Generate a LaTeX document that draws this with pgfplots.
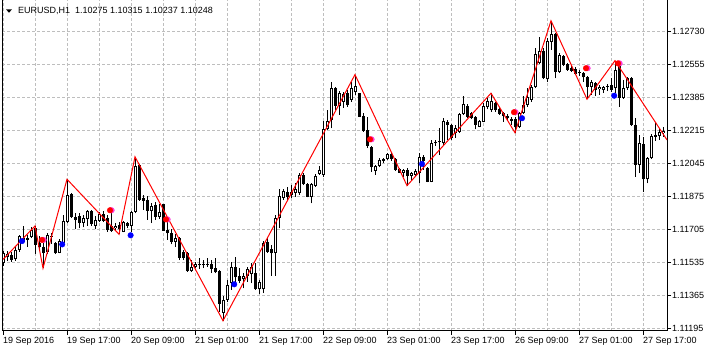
\documentclass[border=0pt]{standalone}
\usepackage{pgfplots}
\pgfplotsset{compat=1.18}
\usepackage{pgfplotstable}
\usepackage{fontspec}
\setmainfont{Liberation Sans}
\definecolor{gridgray}{RGB}{190,190,190}
\definecolor{mtred}{RGB}{255,0,0}
\definecolor{mtblue}{RGB}{0,0,255}
\definecolor{mtmag}{RGB}{255,60,220}

\pgfplotstableread{
i O H L C
0 1.11534 1.11594 1.11516 1.11582
1 1.11561 1.11594 1.11542 1.11577
2 1.11572 1.11590 1.11539 1.11547
3 1.11551 1.11616 1.11544 1.11599
4 1.11599 1.11676 1.11590 1.11671
5 1.11642 1.11723 1.11633 1.11659
6 1.11659 1.11676 1.11616 1.11651
7 1.11664 1.11716 1.11659 1.11702
8 1.11711 1.11723 1.11578 1.11625
9 1.11635 1.11671 1.11599 1.11614
10 1.11616 1.11633 1.11505 1.11582
11 1.11589 1.11685 1.11578 1.11676
12 1.11671 1.11687 1.11630 1.11666
13 1.11633 1.11642 1.11578 1.11582
14 1.11585 1.11654 1.11582 1.11647
15 1.11633 1.11780 1.11625 1.11749
16 1.11745 1.11964 1.11740 1.11883
17 1.11886 1.11892 1.11763 1.11771
18 1.11771 1.11788 1.11706 1.11754
19 1.11774 1.11788 1.11711 1.11737
20 1.11737 1.11780 1.11716 1.11763
21 1.11757 1.11805 1.11723 1.11800
22 1.11800 1.11805 1.11723 1.11732
23 1.11723 1.11774 1.11706 1.11754
24 1.11750 1.11797 1.11745 1.11783
25 1.11783 1.11800 1.11743 1.11750
26 1.11763 1.11780 1.11693 1.11702
27 1.11723 1.11788 1.11693 1.11699
28 1.11711 1.11737 1.11697 1.11724
29 1.11728 1.11742 1.11680 1.11707
30 1.11693 1.11749 1.11690 1.11742
31 1.11738 1.11745 1.11711 1.11724
32 1.11724 1.11800 1.11690 1.11793
33 1.11797 1.12080 1.11788 1.12034
34 1.12038 1.12041 1.11852 1.11857
35 1.11866 1.11883 1.11805 1.11852
36 1.11857 1.11879 1.11754 1.11802
37 1.11802 1.11840 1.11737 1.11828
38 1.11831 1.11848 1.11754 1.11771
39 1.11771 1.11835 1.11759 1.11797
40 1.11835 1.11836 1.11697 1.11699
41 1.11702 1.11745 1.11651 1.11685
42 1.11688 1.11707 1.11628 1.11642
43 1.11642 1.11680 1.11616 1.11659
44 1.11659 1.11666 1.11547 1.11559
45 1.11587 1.11599 1.11547 1.11559
46 1.11582 1.11587 1.11487 1.11490
47 1.11490 1.11547 1.11487 1.11511
48 1.11511 1.11535 1.11505 1.11525
49 1.11527 1.11556 1.11501 1.11519
50 1.11519 1.11547 1.11506 1.11527
51 1.11525 1.11556 1.11511 1.11522
52 1.11525 1.11547 1.11479 1.11501
53 1.11508 1.11556 1.11479 1.11484
54 1.11490 1.11496 1.11281 1.11320
55 1.11274 1.11362 1.11234 1.11341
56 1.11341 1.11444 1.11331 1.11418
57 1.11427 1.11539 1.11393 1.11510
58 1.11510 1.11564 1.11436 1.11458
59 1.11465 1.11505 1.11427 1.11441
60 1.11448 1.11482 1.11401 1.11465
61 1.11465 1.11513 1.11436 1.11499
62 1.11475 1.11530 1.11427 1.11510
63 1.11479 1.11530 1.11393 1.11396
64 1.11396 1.11444 1.11372 1.11432
65 1.11396 1.11647 1.11376 1.11633
66 1.11638 1.11659 1.11585 1.11590
67 1.11604 1.11625 1.11465 1.11582
68 1.11582 1.11780 1.11465 1.11763
69 1.11763 1.11912 1.11711 1.11878
70 1.11869 1.11912 1.11857 1.11903
71 1.11900 1.11926 1.11857 1.11874
72 1.11883 1.11934 1.11866 1.11900
73 1.11892 1.11943 1.11874 1.11914
74 1.11892 1.11995 1.11883 1.11986
75 1.11986 1.11998 1.11934 1.11938
76 1.11938 1.11943 1.11871 1.11874
77 1.11874 1.11943 1.11840 1.11938
78 1.11931 1.11990 1.11926 1.11981
79 1.11991 1.12034 1.11986 1.12012
80 1.11986 1.12265 1.11977 1.12222
81 1.12223 1.12321 1.12218 1.12265
82 1.12270 1.12467 1.12227 1.12433
83 1.12433 1.12442 1.12321 1.12343
84 1.12343 1.12421 1.12296 1.12408
85 1.12364 1.12414 1.12332 1.12404
86 1.12408 1.12425 1.12338 1.12347
87 1.12373 1.12467 1.12363 1.12433
88 1.12414 1.12504 1.12399 1.12445
89 1.12408 1.12411 1.12284 1.12287
90 1.12290 1.12304 1.12209 1.12215
91 1.12218 1.12287 1.12124 1.12136
92 1.12132 1.12136 1.12003 1.12026
93 1.12008 1.12038 1.11986 1.12032
94 1.12032 1.12072 1.12026 1.12063
95 1.12060 1.12072 1.12046 1.12067
96 1.12067 1.12098 1.12063 1.12093
97 1.12093 1.12098 1.12060 1.12067
98 1.12067 1.12072 1.12008 1.12012
99 1.12015 1.12021 1.11995 1.11998
100 1.11995 1.12017 1.11977 1.12012
101 1.12012 1.12021 1.11931 1.11982
102 1.11981 1.12003 1.11960 1.11998
103 1.11986 1.12015 1.11977 1.12008
104 1.11995 1.12098 1.11943 1.12077
105 1.12077 1.12089 1.12012 1.12060
106 1.12021 1.12029 1.11948 1.11951
107 1.11951 1.12167 1.11948 1.12150
108 1.12150 1.12167 1.12136 1.12158
109 1.12161 1.12227 1.12089 1.12154
110 1.12150 1.12279 1.12141 1.12265
111 1.12261 1.12270 1.12167 1.12244
112 1.12244 1.12249 1.12167 1.12175
113 1.12203 1.12244 1.12177 1.12228
114 1.12209 1.12304 1.12204 1.12299
115 1.12299 1.12394 1.12296 1.12351
116 1.12343 1.12351 1.12279 1.12284
117 1.12304 1.12313 1.12273 1.12279
118 1.12284 1.12290 1.12222 1.12244
119 1.12235 1.12270 1.12232 1.12267
120 1.12261 1.12356 1.12258 1.12342
121 1.12335 1.12382 1.12325 1.12369
122 1.12321 1.12408 1.12313 1.12369
123 1.12356 1.12364 1.12313 1.12321
124 1.12325 1.12338 1.12296 1.12301
125 1.12307 1.12313 1.12261 1.12290
126 1.12290 1.12301 1.12267 1.12279
127 1.12273 1.12287 1.12244 1.12267
128 1.12273 1.12287 1.12204 1.12232
129 1.12232 1.12313 1.12227 1.12304
130 1.12304 1.12394 1.12301 1.12347
131 1.12347 1.12433 1.12338 1.12390
132 1.12373 1.12450 1.12364 1.12439
133 1.12439 1.12640 1.12433 1.12610
134 1.12562 1.12696 1.12559 1.12627
135 1.12627 1.12640 1.12480 1.12485
136 1.12480 1.12691 1.12467 1.12679
137 1.12674 1.12782 1.12631 1.12714
138 1.12714 1.12717 1.12485 1.12519
139 1.12519 1.12614 1.12514 1.12605
140 1.12600 1.12605 1.12548 1.12554
141 1.12559 1.12566 1.12524 1.12528
142 1.12537 1.12548 1.12519 1.12524
143 1.12531 1.12545 1.12502 1.12507
144 1.12517 1.12528 1.12497 1.12511
145 1.12511 1.12519 1.12467 1.12490
146 1.12493 1.12497 1.12377 1.12442
147 1.12439 1.12476 1.12399 1.12467
148 1.12462 1.12467 1.12394 1.12425
149 1.12428 1.12450 1.12399 1.12439
150 1.12425 1.12445 1.12408 1.12442
151 1.12439 1.12456 1.12419 1.12445
152 1.12450 1.12485 1.12416 1.12425
153 1.12433 1.12576 1.12411 1.12528
154 1.12554 1.12571 1.12338 1.12382
155 1.12382 1.12476 1.12377 1.12436
156 1.12433 1.12493 1.12425 1.12485
157 1.12485 1.12493 1.12239 1.12244
158 1.12244 1.12279 1.11977 1.12038
159 1.12038 1.12192 1.11995 1.12150
160 1.12146 1.12184 1.11900 1.11964
161 1.11964 1.12080 1.11943 1.12072
162 1.12072 1.12197 1.12067 1.12187
163 1.12184 1.12253 1.12163 1.12192
164 1.12187 1.12227 1.12167 1.12209
165 1.12204 1.12232 1.12184 1.12215
}\candles

\begin{document}
\begin{tikzpicture}
\useasboundingbox (-2pt,-21pt) rectangle (707pt,331pt);
\begin{axis}[
  scale only axis, width=665pt, height=331pt,
  xmin=-0.25, xmax=166, ymin=1.11181, ymax=1.12889,
  enlargelimits=false,
  axis x line*=bottom, axis y line*=right,
  axis line style={line width=1pt, black},
  xtick={0,16,...,160},
  xticklabels={19 Sep 2016,19 Sep 17:00,20 Sep 09:00,21 Sep 01:00,21 Sep 17:00,22 Sep 09:00,23 Sep 01:00,23 Sep 17:00,26 Sep 09:00,27 Sep 01:00,27 Sep 17:00},
  minor xtick={8,24,...,152},
  ytick={1.11195,1.11365,1.11535,1.11705,1.11875,1.12045,1.12215,1.12385,1.12555,1.12725},
  yticklabels={1.11195,1.11365,1.11535,1.11705,1.11875,1.12045,1.12215,1.12385,1.12555,1.12730},
  grid=both,
  major grid style={gridgray, line width=1pt, dash pattern=on 3pt off 2pt},
  minor grid style={gridgray, line width=1pt, dash pattern=on 3pt off 2pt},
  tick align=outside,
  major tick length=4pt, minor tick length=0pt,
  tick style={black, line width=1pt},
  every tick label/.append style={font=\fontsize{9}{10}\selectfont, inner sep=0pt},
  xticklabel style={anchor=base west, yshift=-9pt, xshift=0pt},
  yticklabel style={anchor=west, xshift=1pt},
]
% wicks
\addplot[draw=none, error bars/.cd, y dir=plus, y explicit, error mark=none,
  error bar style={line width=1pt, black}]
  table[x=i, y=L, y error expr={\thisrow{H}-\thisrow{L}}] {\candles};
% bodies (black)
\addplot[draw=none, error bars/.cd, y dir=plus, y explicit, error mark=none,
  error bar style={line width=3pt, black}]
  table[x=i, y expr={min(\thisrow{O},\thisrow{C})}, y error expr={max(abs(\thisrow{C}-\thisrow{O}),0.0000516)}] {\candles};
% white interior of bullish candles
\addplot[draw=none, error bars/.cd, y dir=plus, y explicit, error mark=none,
  error bar style={line width=1pt, white}]
  table[x=i, y expr={\thisrow{O}+0.0000516}, y error expr={max(\thisrow{C}-\thisrow{O}-0.0001032,0)}] {\candles};
% zigzag
\addplot[mtred, line width=1pt, mark=none] coordinates {
(0,1.11550) (8,1.11723) (10,1.11505) (16,1.11964) (29,1.11680) (33,1.12080)
(55,1.11234) (88,1.12504) (101,1.11931) (122,1.12408) (128,1.12204)
(137,1.12782) (146,1.12377) (153,1.12576) (166,1.12167)};
% dots
\addplot[color=mtmag, only marks, mark=*, mark size=2.8pt] coordinates {
(10.15,1.11651) (27.15,1.11804) (41.15,1.11757) (92.15,1.12170) (128.15,1.12310) (146.15,1.12537) (154.15,1.12562)};
\addplot[color=mtred, only marks, mark=*, mark size=2.8pt] coordinates {
(9.75,1.11651) (26.75,1.11804) (40.75,1.11757) (91.75,1.12170) (127.75,1.12310) (145.75,1.12537) (153.75,1.12562)};
\addplot[color=mtblue, only marks, mark=*, mark size=2.8pt] coordinates {
(4.75,1.11645) (14.8,1.11628) (31.9,1.11675) (57.8,1.11422) (104.75,1.12043) (129.75,1.12279) (152.8,1.12395)};
\draw[black, line width=1pt] (rel axis cs:0,0) -- (rel axis cs:0,1);
\fill[black] (rel axis cs:0,1) ++(4pt,-9.3pt) -- ++(6pt,0pt) -- ++(-3pt,-3.5pt) -- cycle;
\node[anchor=base west, inner sep=0pt, font=\fontsize{9}{10}\selectfont] at ([xshift=16pt,yshift=-14pt]rel axis cs:0,1) {EURUSD,H1\ \ 1.10275 1.10315 1.10237 1.10248};
\end{axis}
\end{tikzpicture}
\end{document}
